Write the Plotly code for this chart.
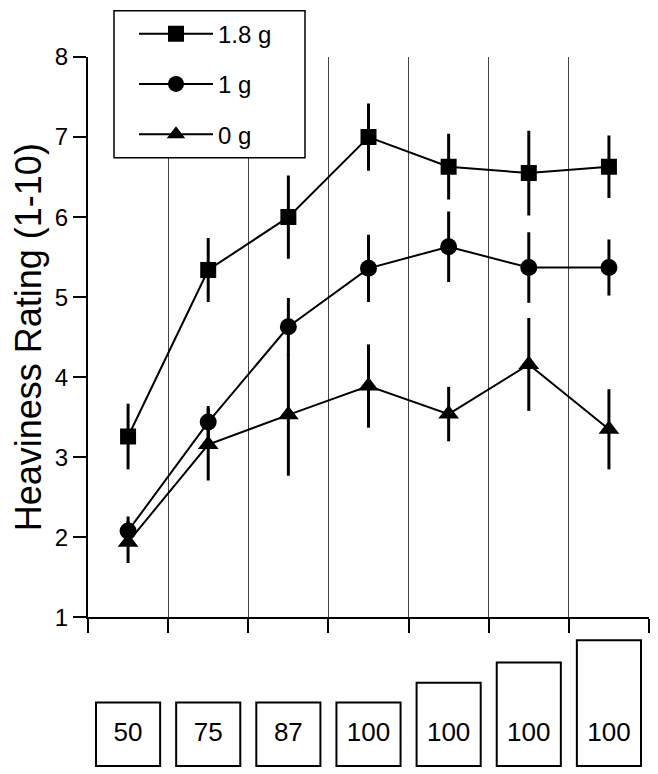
import plotly.graph_objects as go

# ---- data ----
categories = [1, 2, 3, 4, 5, 6, 7]
box_labels = ["50", "75", "87", "100", "100", "100", "100"]
box_heights = [1.0, 1.0, 1.0, 1.0, 1.31, 1.63, 1.98]

series_names = ["1.8 g", "1 g", "0 g"]
y_18 = [3.26, 5.34, 6.00, 7.00, 6.63, 6.55, 6.63]
e_18 = [0.41, 0.40, 0.52, 0.42, 0.41, 0.53, 0.39]
y_1 = [2.08, 3.44, 4.63, 5.36, 5.63, 5.37, 5.37]
e_1 = [0.18, 0.20, 0.36, 0.42, 0.44, 0.44, 0.35]
y_0 = [1.94, 3.16, 3.53, 3.89, 3.54, 4.16, 3.35]
e_0 = [0.26, 0.45, 0.76, 0.52, 0.34, 0.58, 0.50]

y_ticks = [1, 2, 3, 4, 5, 6, 7, 8]
x_bounds = [0.5, 1.5, 2.5, 3.5, 4.5, 5.5, 6.5, 7.5]

FONT = "Liberation Sans, Arial, Helvetica, sans-serif"

fig = go.Figure()

specs = [
    (series_names[0], y_18, e_18, "square", 16),
    (series_names[1], y_1, e_1, "circle", 17),
    (series_names[2], y_0, e_0, "triangle-up", 18),
]
for name, ys, es, sym, sz in specs:
    fig.add_trace(go.Scatter(
        x=categories, y=ys, name=name, legendgroup=name,
        mode="lines+markers",
        line=dict(color="black", width=2),
        marker=dict(symbol=sym, size=sz, color="black"),
        error_y=dict(type="data", array=es, visible=True,
                     color="black", thickness=3, width=0),
        xaxis="x", yaxis="y",
    ))

# bottom boxes
fig.add_trace(go.Bar(
    x=categories, y=box_heights, base=0, width=0.8,
    marker=dict(color="white", line=dict(color="black", width=2)),
    showlegend=False, hoverinfo="skip",
    xaxis="x2", yaxis="y2",
))
fig.add_trace(go.Scatter(
    x=categories, y=[0.5] * len(categories), text=box_labels,
    mode="text", textfont=dict(family=FONT, size=26, color="black"),
    showlegend=False, hoverinfo="skip",
    xaxis="x2", yaxis="y2",
))

# page has an 8px body margin; work in figure pixels
W, H = 650, 766
L, R = 80, 641          # plot left / right (figure px)
T, B = 47, 762          # plot top / bottom (figure px)
PW, PH = R - L, B - T
AX_Y = 609              # main x-axis position (figure px)
BOX0 = 758              # bottom of boxes (figure px)
UNIT = 64               # px per box-height unit


def px(xf):
    return (xf - L) / PW


def py(yf):
    return (B - yf) / PH


fig.update_layout(
    width=W, height=H,
    margin=dict(l=L, r=W - R, t=T, b=H - B, pad=0),
    paper_bgcolor="white", plot_bgcolor="white",
    font=dict(family=FONT, color="black"),
    showlegend=True,
    legend=dict(
        x=px(126), xanchor="left",
        y=py(1.5), yanchor="top",
        bgcolor="rgba(0,0,0,0)", borderwidth=0,
        font=dict(family=FONT, size=24, color="black"),
        itemwidth=74, traceorder="grouped", tracegroupgap=16,
    ),
    xaxis=dict(
        domain=[0, 1], range=[0.5, 7.5], anchor="y",
        tickmode="array", tickvals=x_bounds, ticktext=[""] * len(x_bounds),
        ticks="outside", ticklen=14, tickwidth=2, tickcolor="black",
        showline=True, linewidth=2, linecolor="black",
        showgrid=True, gridcolor="#444444", gridwidth=1,
        zeroline=False, automargin=False, fixedrange=True,
    ),
    yaxis=dict(
        domain=[py(AX_Y), 1], range=[1, 8], anchor="x",
        tickmode="array", tickvals=y_ticks,
        ticks="outside", ticklen=13, tickwidth=1.5, tickcolor="black",
        tickfont=dict(family=FONT, size=24, color="black"),
        showline=True, linewidth=2, linecolor="black",
        showgrid=False, zeroline=False, automargin=False,
        title=dict(text="Heaviness Rating (1-10)",
                   font=dict(family=FONT, size=36, color="black"),
                   standoff=17),
    ),
    xaxis2=dict(domain=[0, 1], range=[0.5, 7.5], anchor="y2",
                visible=False, fixedrange=True),
    yaxis2=dict(domain=[0, py(AX_Y) - 0.001],
                range=[-(B - BOX0) / UNIT, (BOX0 - AX_Y) / UNIT],
                anchor="x2", visible=False, fixedrange=True),
    shapes=[dict(
        type="rect", xref="paper", yref="paper", layer="above",
        x0=px(106), x1=px(297),
        y0=py(148), y1=py(0.5),
        fillcolor="white", line=dict(color="black", width=1.5),
    )],
)

fig.write_html("out.html")
